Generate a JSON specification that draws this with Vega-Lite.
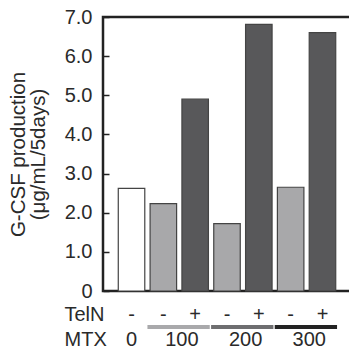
{
  "$schema": "https://vega.github.io/schema/vega-lite/v6.json",
  "padding": {"left": 6, "top": 5, "right": 0, "bottom": 0},
  "background": "white",
  "spacing": 11,
  "bounds": "flush",
  "config": {
    "font": "Liberation Sans",
    "view": {"stroke": null},
    "text": {"font": "Liberation Sans", "fontSize": 20, "color": "#2a2a2a"}
  },
  "datasets": {
    "bars": [
      {"bar": "b1", "value": 2.62, "kind": "ctrl", "teln": "-"},
      {"bar": "b2", "value": 2.23, "kind": "minus", "teln": "-"},
      {"bar": "b3", "value": 4.9, "kind": "plus", "teln": "+"},
      {"bar": "b4", "value": 1.72, "kind": "minus", "teln": "-"},
      {"bar": "b5", "value": 6.81, "kind": "plus", "teln": "+"},
      {"bar": "b6", "value": 2.65, "kind": "minus", "teln": "-"},
      {"bar": "b7", "value": 6.6, "kind": "plus", "teln": "+"}
    ],
    "groups": [
      {"mtx": "100", "start": "b2", "end": "b3", "row": "MTX"},
      {"mtx": "200", "start": "b4", "end": "b5", "row": "MTX"},
      {"mtx": "300", "start": "b6", "end": "b7", "row": "MTX"}
    ],
    "zero": [
      {"mtx": "0", "bar": "b1"}
    ]
  },
  "vconcat": [
    {
      "width": 248,
      "height": 274,
      "view": {"stroke": "#222", "strokeWidth": 2.5},
      "data": {"name": "bars"},
      "mark": {"type": "bar", "stroke": "#444", "strokeWidth": 1.2},
      "encoding": {
        "x": {
          "field": "bar", "type": "nominal",
          "scale": {"type": "band", "domain": ["b1", "b2", "b3", "b4", "b5", "b6", "b7"], "paddingInner": 0.167, "paddingOuter": 0.48},
          "axis": null
        },
        "y": {
          "field": "value", "type": "quantitative",
          "scale": {"domain": [0, 7], "nice": false},
          "axis": {
            "values": [0, 1, 2, 3, 4, 5, 6, 7],
            "labelExpr": "datum.value == 0 ? '0' : format(datum.value, '.1f')",
            "title": ["G-CSF production", "(μg/mL/5days)"],
            "titleFontSize": 20.5,
            "titleFontWeight": "normal",
            "titleColor": "#2a2a2a",
            "titleLineHeight": 20,
            "labelFontSize": 20,
            "labelColor": "#2a2a2a",
            "tickSize": -6,
            "tickColor": "#222",
            "tickWidth": 1.5,
            "domain": false,
            "grid": false,
            "labelPadding": 17,
            "titlePadding": 16
          }
        },
        "color": {
          "field": "kind", "type": "nominal",
          "scale": {"domain": ["ctrl", "minus", "plus"], "range": ["#ffffff", "#a8a8aa", "#58585a"]},
          "legend": null
        }
      }
    },
    {
      "width": 248,
      "height": 50,
      "encoding": {
        "y": {
          "field": "row", "type": "nominal",
          "scale": {"type": "band", "domain": ["TelN", "MTX"], "paddingInner": 0, "paddingOuter": 0},
          "axis": {
            "title": null, "domain": false, "ticks": false,
            "labelFontSize": 20, "labelAlign": "left", "labelPadding": 39, "labelColor": "#2a2a2a"
          }
        }
      },
      "layer": [
        {
          "data": {"name": "bars"},
          "mark": {"type": "text"},
          "encoding": {
            "x": {"field": "bar", "type": "nominal",
              "scale": {"type": "band", "domain": ["b1", "b2", "b3", "b4", "b5", "b6", "b7"], "paddingInner": 0.167, "paddingOuter": 0.48},
              "axis": null},
            "y": {"datum": "TelN"},
            "text": {"field": "teln"}
          }
        },
        {
          "data": {"name": "zero"},
          "mark": {"type": "text"},
          "encoding": {
            "x": {"field": "bar", "type": "nominal", "axis": null},
            "y": {"datum": "MTX"},
            "text": {"field": "mtx"}
          }
        },
        {
          "data": {"name": "groups"},
          "mark": {"type": "text"},
          "encoding": {
            "x": {"field": "end", "type": "nominal", "bandPosition": 0, "axis": null},
            "y": {"datum": "MTX"},
            "text": {"field": "mtx"}
          }
        },
        {
          "data": {"name": "groups"},
          "mark": {"type": "rule", "strokeWidth": 4},
          "encoding": {
            "x": {"field": "start", "type": "nominal", "bandPosition": -0.1, "axis": null},
            "x2": {"field": "end", "bandPosition": 1.05},
            "y": {"field": "row", "type": "nominal", "bandPosition": 0},
            "stroke": {
              "field": "mtx", "type": "nominal",
              "scale": {"domain": ["100", "200", "300"], "range": ["#a9a9ab", "#6e6e70", "#232323"]},
              "legend": null
            }
          }
        }
      ]
    }
  ]
}
